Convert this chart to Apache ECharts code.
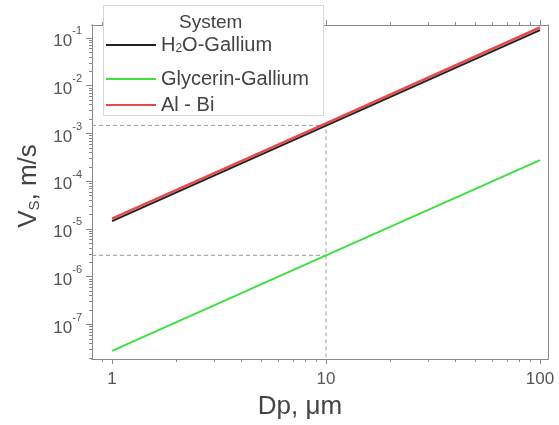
<!DOCTYPE html>
<html>
<head>
<meta charset="utf-8">
<script src="https://cdn.jsdelivr.net/npm/echarts@6/dist/echarts.min.js"></script>
<style>html,body{margin:0;padding:0;background:#fff}#c{width:559px;height:425px}</style>
</head>
<body>
<div id="c"></div>
<script>
// ---- data ----
const dp = [1, 10, 100];
const h2oGallium = [1.45e-5, 1.46e-3, 0.145];
const glycerinGallium = [2.8e-8, 2.8e-6, 2.75e-4];
const alBi = [1.65e-5, 1.62e-3, 0.165];
const seriesNames = ['H2O-Gallium', 'Glycerin-Gallium', 'Al - Bi'];
const legendTitle = 'System';
const guideX = 10;
const guideY = [1.47e-3, 2.8e-6];
const xRange = [0.806, 109];
const yRange = [1.89e-8, 0.186];
const xMajorTicks = [1, 10, 100];
const xMinorTicks = [0.9, 2, 3, 4, 5, 6, 7, 8, 9, 20, 30, 40, 50, 60, 70, 80, 90];
const yMajorTicks = [1e-7, 1e-6, 1e-5, 1e-4, 1e-3, 1e-2, 1e-1];
const yMinorMantissa = [2, 3, 4, 5, 6, 7, 8, 9];
const yMinorDecades = [-8, -7, -6, -5, -4, -3, -2];

const AX = '#8a8a8a';
const TXT = '#555';
const NAME = '#444';
const FONT = 'Liberation Sans, Arial, sans-serif';

const lx = function (v) { return Math.log10(v); };
const yMinorTicks = [];
yMinorDecades.forEach(function (e) { yMinorMantissa.forEach(function (m) { yMinorTicks.push(m * Math.pow(10, e)); }); });

function pairs(xs, ys) { return xs.map(function (x, i) { return [x, ys[i]]; }); }

// display axes (decades in log10 units, aligned with hidden log data axes)
function xDisp(pos, ticks, len, labels) {
  return {
    type: 'value', position: pos, min: lx(xRange[0]), max: lx(xRange[1]), gridIndex: 0,
    axisLine: { show: true, onZero: false, lineStyle: { color: AX, width: 1 } },
    axisTick: { show: true, customValues: ticks.map(lx), length: len, inside: false, lineStyle: { color: AX } },
    axisLabel: labels ? { show: true, customValues: xMajorTicks.map(lx), color: TXT, fontSize: 17, fontFamily: FONT, margin: 12,
      formatter: function (v) { return String(Math.round(Math.pow(10, v))); } } : { show: false },
    splitLine: { show: false }
  };
}
function yDisp(pos, ticks, len, labels, showTick) {
  return {
    type: 'value', position: pos, min: lx(yRange[0]), max: lx(yRange[1]), gridIndex: 0,
    axisLine: { show: true, onZero: false, lineStyle: { color: AX, width: 1 } },
    axisTick: { show: showTick, customValues: ticks.map(lx), length: len, inside: false, lineStyle: { color: AX } },
    axisLabel: labels ? { show: true, customValues: yMajorTicks.map(lx), color: TXT, fontFamily: FONT, margin: 10,
      formatter: function (v) { return '{b|10}{s|' + Math.round(v) + '}'; },
      rich: { b: { fontSize: 17, color: TXT, fontFamily: FONT, verticalAlign: 'bottom', lineHeight: 24 },
              s: { fontSize: 11, color: TXT, fontFamily: FONT, verticalAlign: 'top', lineHeight: 14 } } } : { show: false },
    splitLine: { show: false }
  };
}

const xAxes = [
  { type: 'log', logBase: 10, show: false, min: xRange[0], max: xRange[1], gridIndex: 0 },
  xDisp('bottom', xMajorTicks, 5, true),
  xDisp('bottom', xMinorTicks, 3, false),
  xDisp('top', xMajorTicks, 5, false),
  xDisp('top', xMinorTicks, 3, false)
];
xAxes[1].name = 'Dp, \u03bcm';
xAxes[1].nameLocation = 'middle';
xAxes[1].nameGap = 35;
xAxes[1].nameTextStyle = { fontSize: 26, color: NAME, fontFamily: FONT, padding: [0, 40, 0, 0] };

const yAxes = [
  { type: 'log', logBase: 10, show: false, min: yRange[0], max: yRange[1], gridIndex: 0 },
  yDisp('left', yMajorTicks, 6, true, true),
  yDisp('left', yMinorTicks, 3, false, true),
  yDisp('right', yMajorTicks, 0, false, false)
];
yAxes[1].name = '{n|V}{sub|S}{n|, m/s}';
yAxes[1].nameLocation = 'middle';
yAxes[1].nameRotate = 90;
yAxes[1].nameGap = 50;
yAxes[1].nameTextStyle = { padding: [0, 0, 0, 12], rich: {
  n: { fontSize: 26, color: NAME, fontFamily: FONT, lineHeight: 30, verticalAlign: 'bottom' },
  sub: { fontSize: 15, color: NAME, fontFamily: FONT, lineHeight: 16, verticalAlign: 'bottom' } } };

const legendText = {
  fontSize: 20, color: NAME, fontFamily: FONT, lineHeight: 20,
  rich: { n: { fontSize: 20, color: NAME, fontFamily: FONT, lineHeight: 20, verticalAlign: 'middle' },
          sub: { fontSize: 12, color: NAME, fontFamily: FONT, lineHeight: 11, verticalAlign: 'bottom' } }
};
function legendFmt(name) {
  if (name === 'H2O-Gallium') return '{n|H}{sub|2}{n|O-Gallium}';
  return name;
}
function legendDef(names, top) {
  return {
    data: names, orient: 'vertical', left: 105, top: top, padding: 0,
    itemGap: 6, itemWidth: 50, itemHeight: 20, z: 6,
    itemStyle: { opacity: 0 }, textStyle: legendText, formatter: legendFmt
  };
}

const chart = echarts.init(document.getElementById('c'), null, { renderer: 'canvas' });
chart.setOption({
  animation: false,
  backgroundColor: '#fff',
  grid: { left: 92, top: 25, right: 11, bottom: 62, containLabel: false },
  title: { text: legendTitle, left: 174, top: 8, textStyle: { fontSize: 19, fontWeight: 'normal', color: NAME, fontFamily: FONT }, z: 10 },
  legend: [
    legendDef([seriesNames[0]], 35),
    legendDef([seriesNames[1], seriesNames[2]], 69)
  ],
  graphic: [
    { type: 'rect', z: 5, silent: true, shape: { x: 103.5, y: 5.5, width: 220, height: 110 },
      style: { fill: '#fff', stroke: '#d6d6d6', lineWidth: 1 } }
  ],
  xAxis: xAxes,
  yAxis: yAxes,
  series: [
    { name: 'guides', type: 'line', xAxisIndex: 0, yAxisIndex: 0, symbol: 'none', silent: true,
      lineStyle: { color: '#9a9a9a', width: 1, type: [4, 3] },
      data: [[xRange[0], guideY[0]], [guideX, guideY[0]], [guideX, yRange[0]]], z: 1 },
    { name: 'guides2', type: 'line', xAxisIndex: 0, yAxisIndex: 0, symbol: 'none', silent: true,
      lineStyle: { color: '#9a9a9a', width: 1, type: [4, 3] },
      data: [[xRange[0], guideY[1]], [guideX, guideY[1]]], z: 1 },
    { name: seriesNames[0], type: 'line', xAxisIndex: 0, yAxisIndex: 0, symbol: 'none',
      itemStyle: { color: '#222' }, lineStyle: { color: '#222', width: 2 }, data: pairs(dp, h2oGallium), z: 3 },
    { name: seriesNames[1], type: 'line', xAxisIndex: 0, yAxisIndex: 0, symbol: 'none',
      itemStyle: { color: '#3ee03e' }, lineStyle: { color: '#3ee03e', width: 2 }, data: pairs(dp, glycerinGallium), z: 3 },
    { name: seriesNames[2], type: 'line', xAxisIndex: 0, yAxisIndex: 0, symbol: 'none',
      itemStyle: { color: '#e8484a' }, lineStyle: { color: '#e8484a', width: 2.5 }, data: pairs(dp, alBi), z: 4 }
  ]
});
</script>
</body>
</html>
